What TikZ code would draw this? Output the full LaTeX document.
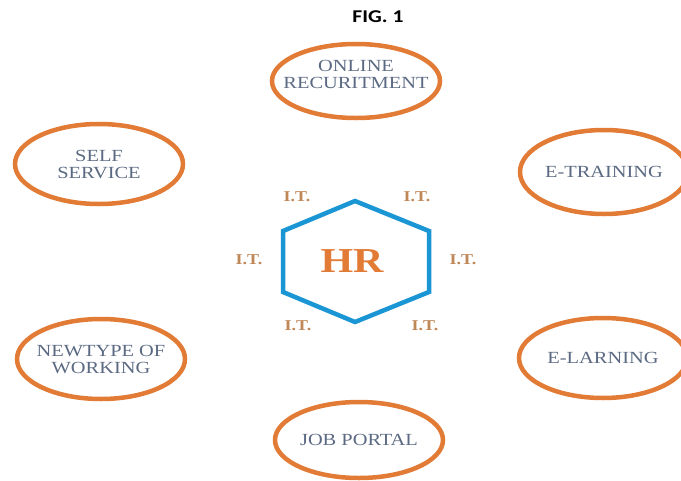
\documentclass[tikz,border=0pt]{standalone}
\usepackage{fontspec}
\usetikzlibrary{shapes.geometric}
\newfontfamily\titlefont[FakeStretch=1.2]{Carlito}
\newfontfamily\labelfont[FakeStretch=1.2]{Liberation Serif}
\definecolor{anaranjado}{HTML}{E27B35}
\definecolor{azulhex}{HTML}{1B96D4}
\definecolor{textogris}{HTML}{5B6A82}
\definecolor{marron}{HTML}{BF8656}
\tikzset{
    area/.style={ellipse, draw=anaranjado, line width=4.5pt, inner xsep=-25pt, inner ysep=0pt,
        minimum width=168pt, minimum height=80pt, align=center, text=textogris,
        font=\labelfont\fontsize{17}{17}\selectfont},
    it/.style={text=marron, font=\labelfont\bfseries\fontsize{15}{15}\selectfont}
}
\begin{document}
\begin{tikzpicture}[x=1pt, y=-1pt]
    \fill[white] (0,0) rectangle (681,480);
    \useasboundingbox (0,0) rectangle (681,480);

    \node[font=\titlefont\bfseries\fontsize{18}{18}\selectfont] (fig) at (378,17) {FIG. 1};

    % Hexágono central
    \coordinate (A) at (355,201);
    \coordinate (B) at (429,231);
    \coordinate (C) at (429,292);
    \coordinate (D) at (355,322);
    \coordinate (E) at (283,292);
    \coordinate (F) at (283,231);
    \draw[azulhex, line width=4.5pt, line join=miter] (A) -- (B) -- (C) -- (D) -- (E) -- (F) -- cycle;
    \node[text=anaranjado, font=\labelfont\bfseries\fontsize{35}{35}\selectfont] (hr) at (352,261) {HR};

    % I.T. alrededor
    \node[it] (it1) at (297,197) {I.T.};
    \node[it] (it2) at (417,197) {I.T.};
    \node[it] (it3) at (249,260) {I.T.};
    \node[it] (it4) at (463,260) {I.T.};
    \node[it] (it5) at (298,326) {I.T.};
    \node[it] (it6) at (425,326) {I.T.};

    % Elipses
    \node[area, minimum height=74pt, text depth=14pt] (online) at (356,81) {ONLINE\\RECURITMENT};
    \node[area] (self) at (99,164) {SELF\\SERVICE};
    \node[area, minimum height=84pt] (training) at (604,172) {E-TRAINING};
    \node[area] (newtype) at (101,359) {NEWTYPE OF\\WORKING};
    \node[area] (learning) at (603,358) {E-LARNING};
    \node[area, minimum height=76pt] (job) at (359,440) {JOB PORTAL};
\end{tikzpicture}
\end{document}
